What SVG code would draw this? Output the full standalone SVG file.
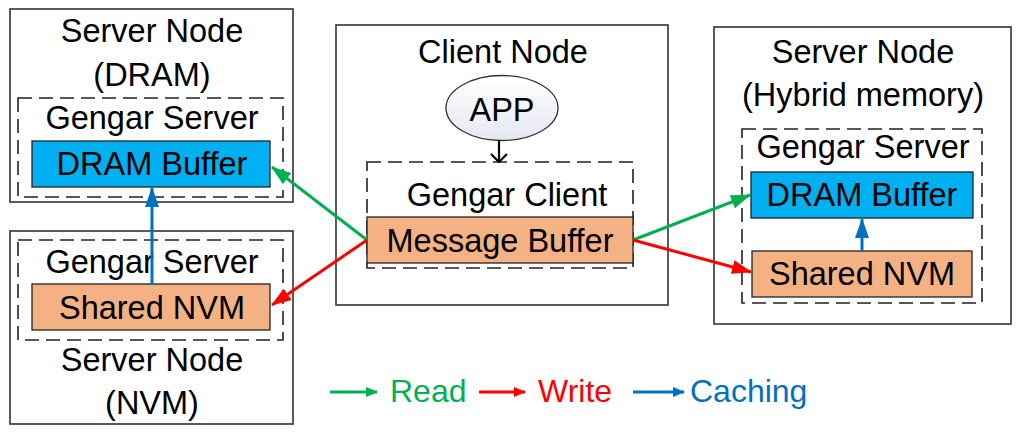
<svg xmlns="http://www.w3.org/2000/svg" width="1025" height="434" viewBox="0 0 1025 434">
<style>
.node{fill:#fff;stroke:#333;stroke-width:1.6}
.dash{fill:none;stroke:#222;stroke-width:1.6;stroke-dasharray:14 7}
.blue{fill:#00B0F0;stroke:#222;stroke-width:1.3}
.orange{fill:#F4B183;stroke:#222;stroke-width:1.3}
text{font-family:"Liberation Sans",Arial,sans-serif;font-size:32.5px;fill:#000;text-anchor:middle}
.lg{font-size:32px;text-anchor:start}
.g{stroke:#00B050;stroke-width:3;fill:none}
.r{stroke:#FF0000;stroke-width:3;fill:none}
.b{stroke:#0070C0;stroke-width:3;fill:none}
</style>
<defs>
<marker id="mg" markerUnits="userSpaceOnUse" viewBox="0 0 20 14" refX="19" refY="7" markerWidth="20" markerHeight="14" orient="auto"><path d="M0,0L20,7L0,14z" fill="#00B050"/></marker>
<marker id="mr" markerUnits="userSpaceOnUse" viewBox="0 0 20 14" refX="19" refY="7" markerWidth="20" markerHeight="14" orient="auto"><path d="M0,0L20,7L0,14z" fill="#FF0000"/></marker>
<marker id="mb" markerUnits="userSpaceOnUse" viewBox="0 0 20 14" refX="19" refY="7" markerWidth="20" markerHeight="14" orient="auto"><path d="M0,0L20,7L0,14z" fill="#0070C0"/></marker>
<marker id="sg" markerUnits="userSpaceOnUse" viewBox="0 0 12 10" refX="11" refY="5" markerWidth="12" markerHeight="10" orient="auto"><path d="M0,0L12,5L0,10z" fill="#00B050"/></marker>
<marker id="sr" markerUnits="userSpaceOnUse" viewBox="0 0 12 10" refX="11" refY="5" markerWidth="12" markerHeight="10" orient="auto"><path d="M0,0L12,5L0,10z" fill="#FF0000"/></marker>
<marker id="sb" markerUnits="userSpaceOnUse" viewBox="0 0 12 10" refX="11" refY="5" markerWidth="12" markerHeight="10" orient="auto"><path d="M0,0L12,5L0,10z" fill="#0070C0"/></marker>
<marker id="mk" markerUnits="userSpaceOnUse" viewBox="0 0 10 18" refX="9" refY="9" markerWidth="10" markerHeight="18" orient="auto"><path d="M1,1L9,9L1,17" fill="none" stroke="#000" stroke-width="2.2"/></marker>
<linearGradient id="eg" x1="0" y1="0" x2="0" y2="1"><stop offset="0" stop-color="#ffffff"/><stop offset="1" stop-color="#e4e8f2"/></linearGradient>
</defs>

<g id="server-dram">
<rect class="node" x="10" y="9" width="283" height="193"/>
<text x="152" y="42">Server Node</text>
<text x="152" y="86">(DRAM)</text>
<rect class="dash" x="18" y="98" width="265" height="99"/>
<text x="152" y="129">Gengar Server</text>
<rect class="blue" x="32" y="141" width="238" height="46"/>
<text x="152" y="175">DRAM Buffer</text>
</g>

<g id="server-nvm">
<rect class="node" x="10" y="231" width="283" height="193"/>
<rect class="dash" x="18" y="240" width="265" height="100"/>
<text x="152" y="273">Gengar Server</text>
<rect class="orange" x="32" y="284" width="238" height="46"/>
<text x="152" y="319">Shared NVM</text>
<text x="152" y="371">Server Node</text>
<text x="152" y="414">(NVM)</text>
</g>

<g id="client">
<rect class="node" x="336" y="25" width="332" height="280"/>
<text x="503" y="63">Client Node</text>
<ellipse cx="502" cy="108" rx="56" ry="32.5" fill="url(#eg)" stroke="#333" stroke-width="1.3"/>
<text x="502" y="121">APP</text>
<rect class="dash" x="367" y="162" width="266" height="106"/>
<text x="507" y="206">Gengar Client</text>
<rect class="orange" x="367" y="217" width="266" height="46"/>
<text x="500" y="252">Message Buffer</text>
</g>

<g id="server-hybrid">
<rect class="node" x="714" y="27" width="297" height="297"/>
<text x="863" y="63">Server Node</text>
<text x="863" y="106">(Hybrid memory)</text>
<rect class="dash" x="742" y="129" width="240" height="174"/>
<text x="863" y="158">Gengar Server</text>
<rect class="blue" x="751" y="172" width="222" height="46"/>
<text x="862" y="206">DRAM Buffer</text>
<rect class="orange" x="752" y="251" width="220" height="46"/>
<text x="862" y="285">Shared NVM</text>
</g>

<g id="connectors">
<line x1="499" y1="140" x2="499" y2="162" stroke="#000" stroke-width="2.2" marker-end="url(#mk)"/>
<line class="g" x1="367" y1="240" x2="272" y2="167" marker-end="url(#mg)"/>
<line class="r" x1="367" y1="240" x2="272" y2="305" marker-end="url(#mr)"/>
<line class="b" x1="152" y1="285" x2="152" y2="188" marker-end="url(#mb)"/>
<line class="g" x1="633" y1="240" x2="750" y2="195" marker-end="url(#mg)"/>
<line class="r" x1="633" y1="240" x2="751" y2="272" marker-end="url(#mr)"/>
<line class="b" x1="862" y1="251" x2="862" y2="219" marker-end="url(#mb)"/>
</g>

<g id="legend">
<line class="g" x1="330" y1="392" x2="377" y2="392" stroke-width="2.5" marker-end="url(#sg)"/>
<text class="lg" x="390" y="402" style="fill:#00B050">Read</text>
<line class="r" x1="479" y1="392" x2="525" y2="392" stroke-width="2.5" marker-end="url(#sr)"/>
<text class="lg" x="538" y="402" style="fill:#FF0000">Write</text>
<line class="b" x1="633" y1="392" x2="684" y2="392" marker-end="url(#sb)"/>
<text class="lg" x="690" y="402" style="fill:#0070C0">Caching</text>
</g>
</svg>
